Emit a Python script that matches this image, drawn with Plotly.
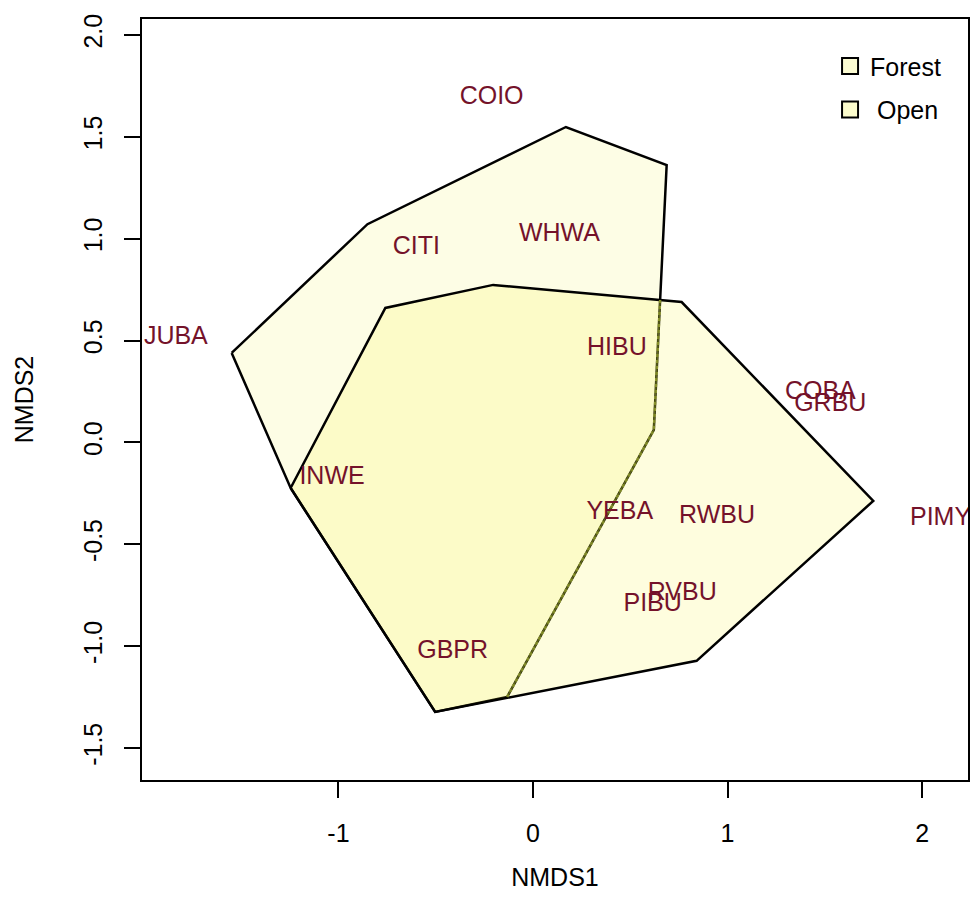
import plotly.graph_objects as go

# Species scores (labels)
species = ["COIO", "WHWA", "CITI", "JUBA", "HIBU", "COBA", "GRBU", "INWE",
           "YEBA", "RWBU", "PIMY", "RVBU", "PIBU", "GBPR"]
sp_x = [-0.213, 0.136, -0.600, -1.836, 0.431, 1.477, 1.528, -1.033,
        0.446, 0.946, 2.095, 0.767, 0.615, -0.413]
sp_y = [1.690, 1.018, 0.957, 0.515, 0.458, 0.242, 0.183, -0.173,
        -0.347, -0.366, -0.374, -0.744, -0.796, -1.029]

# Convex hull vertices per habitat group
forest_x = [-1.549, -0.851, 0.169, 0.687, 0.621, -0.133, -0.503, -1.246]
forest_y = [0.439, 1.071, 1.548, 1.361, 0.061, -1.249, -1.323, -0.224]
open_x = [-1.246, -0.759, -0.205, 0.764, 1.749, 0.841, -0.503]
open_y = [-0.224, 0.660, 0.773, 0.689, -0.287, -1.072, -1.323]

x_ticks = [-1, 0, 1, 2]
y_ticks = [-1.5, -1.0, -0.5, 0.0, 0.5, 1.0, 1.5, 2.0]

FONT = "Liberation Sans, Arial, Helvetica, sans-serif"


def seg_intersect(p1, p2, p3, p4):
    x1, y1 = p1; x2, y2 = p2; x3, y3 = p3; x4, y4 = p4
    d = (x1 - x2) * (y3 - y4) - (y1 - y2) * (x3 - x4)
    t = ((x1 - x3) * (y3 - y4) - (y1 - y3) * (x3 - x4)) / d
    return x1 + t * (x2 - x1), y1 + t * (y2 - y1)


# Part of the Forest border lying under the Open fill (appears tinted)
ix, iy = seg_intersect((forest_x[3], forest_y[3]), (forest_x[4], forest_y[4]),
                       (open_x[2], open_y[2]), (open_x[3], open_y[3]))
inner_x = [ix, forest_x[4], forest_x[5]]
inner_y = [iy, forest_y[4], forest_y[5]]

fig = go.Figure()
fig.add_trace(go.Scatter(
    x=forest_x + forest_x[:1], y=forest_y + forest_y[:1],
    mode="lines", fill="toself", name="Forest", showlegend=False,
    fillcolor="rgba(245,245,110,0.18)",
    line=dict(color="black", width=2.5),
    hoverinfo="skip",
))
fig.add_trace(go.Scatter(
    x=open_x + open_x[:1], y=open_y + open_y[:1],
    mode="lines", fill="toself", name="Open", showlegend=False,
    fillcolor="rgba(250,240,50,0.16)",
    line=dict(color="black", width=2.5),
    hoverinfo="skip",
))
fig.add_trace(go.Scatter(
    x=inner_x, y=inner_y, mode="lines", showlegend=False,
    line=dict(color="#a4ad3c", width=2.4, dash="dot"),
    hoverinfo="skip",
))
fig.add_trace(go.Scatter(
    x=inner_x, y=inner_y, mode="lines", showlegend=False,
    line=dict(color="rgba(110,120,30,0.8)", width=1.4),
    hoverinfo="skip",
))
fig.add_trace(go.Scatter(
    x=sp_x, y=sp_y, mode="text", text=species,
    textposition="middle center",
    textfont=dict(family=FONT, size=25, color="#74122a"),
    showlegend=False, cliponaxis=True, hoverinfo="skip",
))
# Legend entries
for nm, col, grp in [("Forest", "#fbfbd2", "f"), (" Open", "#fbfbcc", "o")]:
    fig.add_trace(go.Scatter(
        x=[None], y=[None], mode="markers", name=nm, legendgroup=grp,
        marker=dict(symbol="square", size=18, color=col,
                    line=dict(color="black", width=2)),
    ))

fig.update_layout(
    width=972, height=915,
    margin=dict(l=142, r=2, t=19, b=135),
    paper_bgcolor="white", plot_bgcolor="white",
    font=dict(family=FONT, size=25, color="black"),
    showlegend=True,
    legend=dict(
        x=0.833, y=0.968, xanchor="left", yanchor="top",
        bgcolor="rgba(0,0,0,0)", borderwidth=0,
        font=dict(family=FONT, size=25, color="black"),
        itemwidth=30, tracegroupgap=8, traceorder="grouped",
    ),
    xaxis=dict(
        range=[-2.01, 2.236], tickmode="array", tickvals=x_ticks,
        ticktext=[str(v) for v in x_ticks],
        showgrid=False, zeroline=False,
        showline=True, linecolor="black", linewidth=2, mirror=True,
        ticks="outside", ticklen=16, tickwidth=2, tickcolor="black",
        tickfont=dict(family=FONT, size=25),
        ticklabelstandoff=14,
        title=dict(text="NMDS1", font=dict(family=FONT, size=25), standoff=22),
    ),
    yaxis=dict(
        range=[-1.657, 2.078], tickmode="array", tickvals=y_ticks,
        ticktext=[f"{v:.1f}" for v in y_ticks],
        showgrid=False, zeroline=False,
        showline=True, linecolor="black", linewidth=2, mirror=True,
        ticks="outside", ticklen=16, tickwidth=2, tickcolor="black",
        tickfont=dict(family=FONT, size=25), tickangle=-90,
        ticklabelstandoff=12,
        title=dict(text="NMDS2", font=dict(family=FONT, size=25), standoff=38),
    ),
)

fig.write_html("out.html")
